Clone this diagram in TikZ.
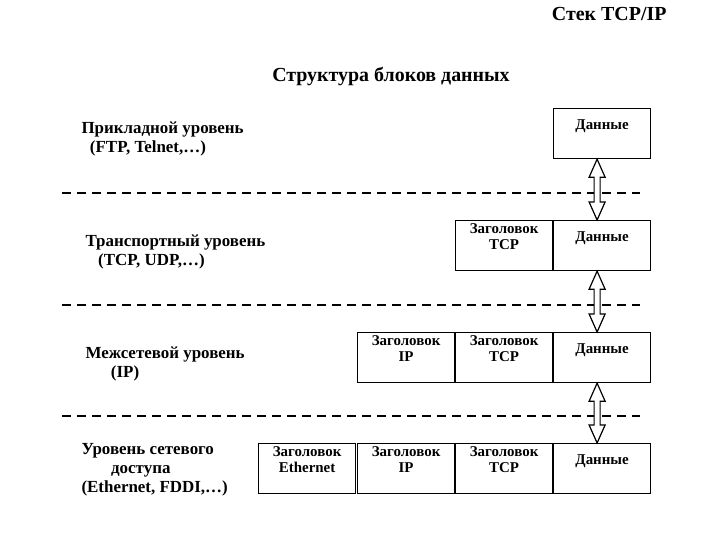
\documentclass[tikz,border=0pt]{standalone}
\usepackage{fontspec}
\setmainfont{Liberation Serif}
\usetikzlibrary{positioning}
\tikzset{
  blk/.style={draw, very thick, minimum width=97bp, minimum height=50bp, inner sep=3pt,
    anchor=north west, align=center, font=\fontsize{15}{16}\bfseries, text depth=18bp},
  lvl/.style={anchor=north west, align=left, font=\fontsize{17}{19}\bfseries},
  sep/.style={very thick, dash pattern=on 9bp off 6bp},
}
\begin{document}
\begin{tikzpicture}[x=1bp, y=-1bp]
  \useasboundingbox (0,0) rectangle (720,540);

  \node[anchor=north east, font=\fontsize{20}{22}\bfseries] (stack) at (670,4) {Стек TCP/IP};
  \node[font=\fontsize{20}{22}\bfseries] (title) at (391,77) {Структура блоков данных};

  % levels
  \node[lvl] (l1) at (78,118) {Прикладной уровень\\\ \ (FTP, Telnet,\dots)};
  \node[lvl] (l2) at (82,231) {Транспортный уровень\\\ \ \ (TCP, UDP,\dots)};
  \node[lvl] (l3) at (82,343) {Межсетевой уровень\\\ \ \ \ \ \ (IP)};
  \node[lvl] (l4) at (78,440) {Уровень сетевого\\\ \ \ \ \ \ \ доступа\\(Ethernet, FDDI,\dots)};

  % separators
  \foreach \y in {193, 305, 416}
    \draw[sep] (62,\y) -- (640,\y);

  % blocks
  \node[blk] (d1) at (553,108) {Данные};
  \node[blk] (d2) at (553,220) {Данные};
  \node[blk] (t2) at (455,220) {Заголовок\\TCP};
  \node[blk] (d3) at (553,332) {Данные};
  \node[blk] (t3) at (455,332) {Заголовок\\TCP};
  \node[blk] (i3) at (357,332) {Заголовок\\IP};
  \node[blk] (d4) at (553,443) {Данные};
  \node[blk] (t4) at (455,443) {Заголовок\\TCP};
  \node[blk] (i4) at (357,443) {Заголовок\\IP};
  \node[blk] (e4) at (258,443) {Заголовок\\Ethernet};

  % arrows
  \foreach \a/\b in {d1/d2, d2/d3, d3/d4} {
    \path ([xshift=-5bp]\a.south) coordinate (top) ([xshift=-5bp]\b.north) coordinate (bot);
    \draw[very thick, fill=white] (top) -- ++(-8,18) -- ++(5,0)
      -- ([xshift=-3bp, yshift=18bp]bot) -- ++(-5,0) -- (bot) -- ++(8,-18) -- ++(-5,0)
      -- ([xshift=3bp, yshift=-18bp]top) -- ++(5,0) -- cycle;
  }
\end{tikzpicture}
\end{document}
